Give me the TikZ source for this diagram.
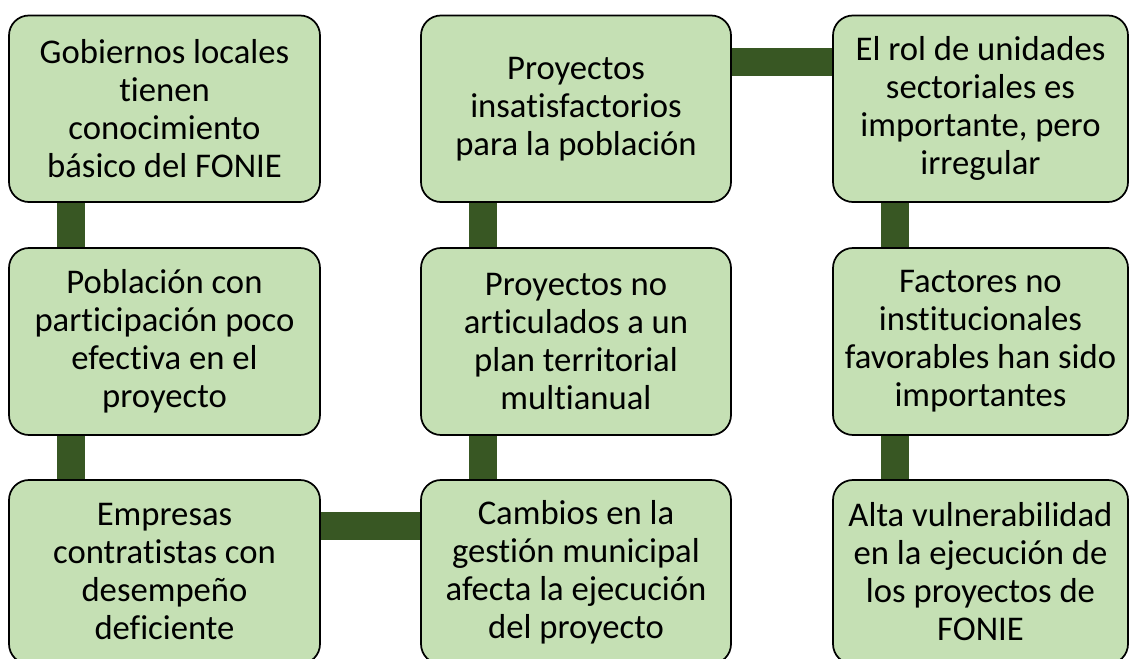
\documentclass[tikz,border=0pt]{standalone}
\usepackage{fontspec}
\setmainfont{Carlito}[Ligatures=NoCommon]
\usetikzlibrary{backgrounds}
\definecolor{boxfill}{HTML}{C5E0B4}
\definecolor{barcol}{HTML}{385723}
\begin{document}
\begin{tikzpicture}[x=0.75pt,y=-0.75pt,
  card/.style={draw=black,line width=1.3pt,fill=boxfill,rounded corners=15pt,
    inner sep=0pt,align=center,
    font=\fontsize{26}{28.5}\selectfont},
  bar/.style={draw=barcol,line width=21pt}]
\useasboundingbox (0,0) rectangle (1129,659);
% column 1
\node[card,minimum width=233.25pt,minimum height=139.9pt] (a1) at (164.5,108.75)
  {Gobiernos locales\\tienen\\conocimiento\\básico del FONIE};
\node[card,minimum width=233.25pt,minimum height=140.25pt] (a2) at (164.5,341.5)
  {Población con\\participación poco\\efectiva en el\\proyecto};
\node[card,minimum width=233.25pt,minimum height=138pt] (a3) at (164.5,572)
  {Empresas\\contratistas con\\desempeño\\deficiente};
% column 2
\node[card,minimum width=232.5pt,minimum height=139.9pt] (b1) at (576,108.75)
  {Proyectos\\insatisfactorios\\para la población};
\node[card,minimum width=232.5pt,minimum height=140.25pt] (b2) at (576,341.5)
  {Proyectos no\\articulados a un\\plan territorial\\multianual};
\node[card,minimum width=232.5pt,minimum height=138pt] (b3) at (576,572)
  {Cambios en la\\gestión municipal\\afecta la ejecución\\del proyecto};
% column 3
\node[card,minimum width=221.25pt,minimum height=139.9pt] (c1) at (980.5,108.75)
  {El rol de unidades\\sectoriales es\\importante, pero\\irregular};
\node[card,minimum width=221.25pt,minimum height=140.25pt] (c2) at (980.5,341.5)
  {Factores no\\institucionales\\favorables han sido\\importantes};
\node[card,minimum width=221.25pt,minimum height=138pt] (c3) at (980.5,572)
  {Alta vulnerabilidad\\en la ejecución de\\los proyectos de\\FONIE};
\begin{scope}[on background layer]
  \draw[bar] ([xshift=47.25pt]a1.south west) -- ([xshift=47.25pt]a2.north west);
  \draw[bar] ([xshift=47.25pt]a2.south west) -- ([xshift=47.25pt]a3.north west);
  \draw[bar] ([yshift=-35.25pt]a3.north east) -- ([yshift=-35.25pt]b3.north west);
  \draw[bar] ([xshift=47.25pt]b3.north west) -- ([xshift=47.25pt]b2.south west);
  \draw[bar] ([xshift=47.25pt]b2.north west) -- ([xshift=47.25pt]b1.south west);
  \draw[bar] ([yshift=-35.25pt]b1.north east) -- ([yshift=-35.25pt]c1.north west);
  \draw[bar] ([xshift=47.25pt]c1.south west) -- ([xshift=47.25pt]c2.north west);
  \draw[bar] ([xshift=47.25pt]c2.south west) -- ([xshift=47.25pt]c3.north west);
\end{scope}
\end{tikzpicture}
\end{document}
